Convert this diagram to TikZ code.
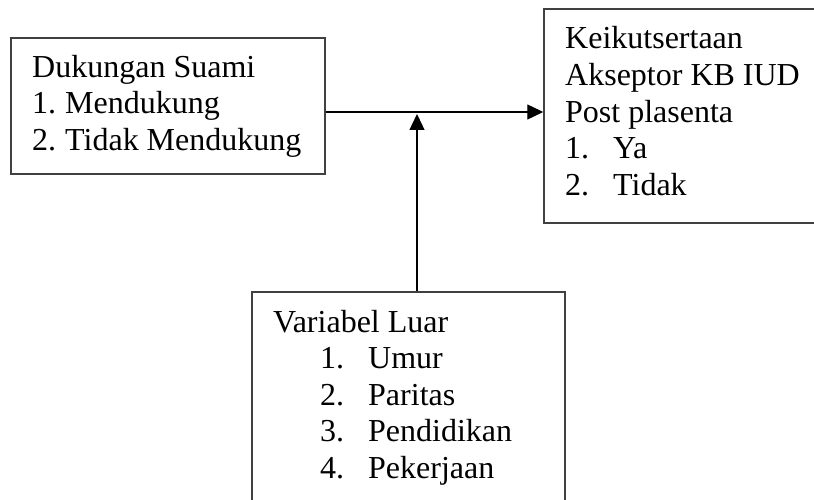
\documentclass[tikz,border=0pt]{standalone}
\usepackage{fontspec}
\setmainfont{Liberation Serif}
\usetikzlibrary{arrows.meta}

\newcommand{\listnum}[2][48pt]{\makebox[#1][l]{#2}}

\begin{document}
\begin{tikzpicture}[
    x=1pt, y=-1pt,
    box/.style={draw=black!75, line width=1.5pt, inner sep=0pt},
    txt/.style={anchor=base west, align=left, inner sep=0pt,
                font=\fontsize{32}{36.5}\selectfont},
    arr/.style={-{Triangle[length=16pt, width=15pt]}, line width=1.3pt},
]
    \useasboundingbox (0,0) rectangle (814,500);

    \node[box, minimum width=314pt, minimum height=136pt] (suami) at (168,106) {};
    \node[box, minimum width=290pt, minimum height=214pt] (kb) at (689,116) {};
    \node[box, minimum width=313pt, minimum height=228pt] (luar) at (408.5,406) {};

    % text nodes are placed at the baseline of their last line
    \node[txt] (suamitxt) at (32,150) {Dukungan Suami\\
        \listnum[33pt]{1.}Mendukung\\
        \listnum[33pt]{2.}Tidak Mendukung};
    \node[txt] (kbtxt) at (565,195) {Keikutsertaan\\
        Akseptor KB IUD\\
        Post plasenta\\
        \listnum{1.}Ya\\
        \listnum{2.}Tidak};
    \node[txt] (luartxt) at (273,478) {Variabel Luar\\
        \hspace*{47pt}\listnum{1.}Umur\\
        \hspace*{47pt}\listnum{2.}Paritas\\
        \hspace*{47pt}\listnum{3.}Pendidikan\\
        \hspace*{47pt}\listnum{4.}Pekerjaan};

    \coordinate (meet) at (417,112);
    \draw[arr] (suami.east |- meet) -- (kb.west |- meet);
    \draw[arr] (luar.north -| meet) -- ([yshift=-2pt]meet);
\end{tikzpicture}
\end{document}
